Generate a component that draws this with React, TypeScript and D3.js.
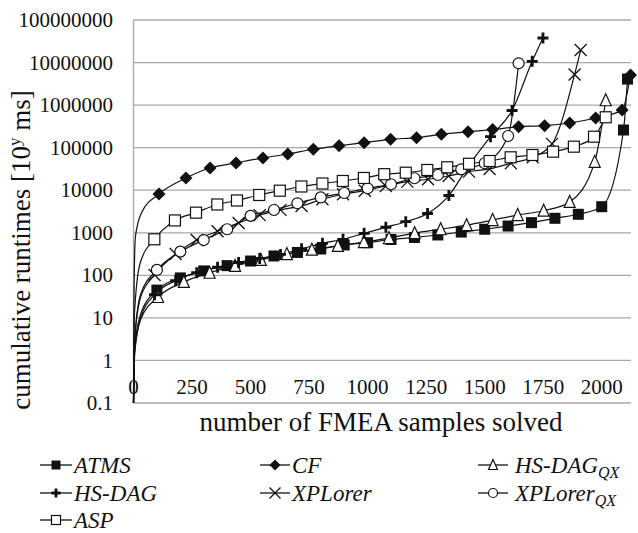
import React from 'react';
import * as d3 from 'd3';

// samples solved (x) and cumulative runtimes (y)
// the first LEAD points of each series are the rise from 0 and carry no marker
const ATMS_N = [0, 5, 30, 100, 200, 300, 400, 500, 600, 700, 800, 900, 1000, 1100, 1200, 1300, 1400, 1500, 1600, 1700, 1800, 1900, 2000, 2093, 2110];
const ATMS_V = [0.1, 2, 12, 45, 87, 127, 169, 217, 285, 345, 416, 517, 585, 696, 776, 888, 1040, 1210, 1440, 1730, 2190, 2720, 4100, 260000, 4100000];

const CF_N = [0, 2, 8, 35, 109, 224, 327, 438, 553, 659, 768, 878, 985, 1098, 1209, 1315, 1429, 1534, 1645, 1756, 1863, 1974, 2087, 2123];
const CF_V = [0.1, 30, 800, 3000, 8170, 19400, 33300, 43700, 57200, 71100, 91700, 111000, 131000, 157000, 172000, 206000, 237000, 267000, 311000, 328000, 380000, 498000, 767000, 5100000];

const HSQX_N = [0, 5, 30, 105, 215, 325, 434, 544, 655, 762, 873, 984, 1091, 1201, 1312, 1423, 1534, 1641, 1752, 1863, 1970, 2017];
const HSQX_V = [0.1, 1.5, 9, 31, 70, 115, 166, 230, 316, 400, 490, 605, 750, 980, 1210, 1510, 1990, 2610, 3300, 5300, 46500, 1300000];

const HS_N = [0, 5, 30, 90, 180, 270, 359, 449, 539, 628, 718, 807, 895, 985, 1078, 1163, 1256, 1347, 1434, 1525, 1617, 1703, 1749];
const HS_V = [0.1, 1.5, 10, 35, 75, 115, 155, 200, 250, 310, 420, 566, 703, 972, 1350, 1820, 2840, 7510, 39200, 181000, 748000, 10700000, 37800000];

const XP_N = [0, 5, 30, 90, 180, 270, 359, 449, 539, 628, 718, 807, 895, 988, 1078, 1170, 1258, 1346, 1433, 1521, 1612, 1705, 1788, 1884, 1910];
const XP_V = [0.1, 3, 30, 102, 316, 675, 1090, 1700, 2600, 3460, 4270, 6150, 8040, 9750, 12600, 15900, 18100, 21600, 27300, 31600, 43000, 59400, 123000, 5240000, 19700000];

const XPQX_N = [0, 5, 30, 100, 200, 300, 400, 500, 600, 700, 800, 900, 1000, 1100, 1200, 1300, 1400, 1500, 1600, 1645];
const XPQX_V = [0.1, 3, 35, 134, 360, 675, 1210, 2500, 3430, 4930, 6760, 8600, 11100, 13800, 19100, 22800, 31000, 43000, 188000, 9600000];

const ASP_N = [0, 3, 28, 89, 177, 267, 358, 442, 537, 625, 717, 807, 894, 984, 1071, 1163, 1255, 1340, 1433, 1521, 1611, 1704, 1792, 1881, 1967, 2017];
const ASP_V = [0.1, 10, 190, 703, 1950, 2970, 4620, 5740, 7730, 9750, 12240, 14400, 16480, 19400, 23800, 25800, 29900, 34600, 41800, 48600, 59400, 67300, 80500, 105500, 181000, 518000];

const X_TICKS = [0, 250, 500, 750, 1000, 1250, 1500, 1750, 2000];
const Y_TICKS = [0.1, 1, 10, 100, 1000, 10000, 100000, 1000000, 10000000, 100000000];

const series = [
  { name: 'ATMS', sub: '', n: ATMS_N, v: ATMS_V, lead: 3, sym: 'fsquare' },
  { name: 'CF', sub: '', n: CF_N, v: CF_V, lead: 4, sym: 'diamond' },
  { name: 'HS-DAG', sub: 'QX', n: HSQX_N, v: HSQX_V, lead: 3, sym: 'triangle' },
  { name: 'HS-DAG', sub: '', n: HS_N, v: HS_V, lead: 3, sym: 'plus' },
  { name: 'XPLorer', sub: '', n: XP_N, v: XP_V, lead: 3, sym: 'cross' },
  { name: 'XPLorer', sub: 'QX', n: XPQX_N, v: XPQX_V, lead: 3, sym: 'circle' },
  { name: 'ASP', sub: '', n: ASP_N, v: ASP_V, lead: 3, sym: 'osquare' },
];

// legend slots: [line x0, line x1, text x, baseline]
const legendPos = [
  [40, 72, 74, 473],
  [260, 290, 292, 473],
  [478, 508, 515, 473],
  [40, 72, 74, 501],
  [260, 290, 292, 501],
  [478, 508, 515, 501],
  [40, 72, 74, 528],
];

const FONT = '"Liberation Serif", Tinos, "Times New Roman", Times, serif';

function Marker({ sym, x, y, s }: { sym: string; x: number; y: number; s: number }) {
  const h = s / 2;
  switch (sym) {
    case 'fsquare':
      return <rect x={x - h} y={y - h} width={s} height={s} fill="#111" />;
    case 'osquare':
      return <rect x={x - h} y={y - h} width={s} height={s} fill="#fff" stroke="#111" strokeWidth={1.2} />;
    case 'diamond':
      return <path d={`M${x},${y - h - 1}L${x + h + 1},${y}L${x},${y + h + 1}L${x - h - 1},${y}Z`} fill="#111" />;
    case 'triangle':
      return <path d={`M${x},${y - h - 1}L${x + h},${y + h}L${x - h},${y + h}Z`} fill="#fff" stroke="#111" strokeWidth={1.2} />;
    case 'circle':
      return <circle cx={x} cy={y} r={h} fill="#fff" stroke="#111" strokeWidth={1.2} />;
    case 'cross':
      return <path d={`M${x - h - 1},${y - h - 1}L${x + h + 1},${y + h + 1}M${x - h - 1},${y + h + 1}L${x + h + 1},${y - h - 1}`} stroke="#111" strokeWidth={1.3} />;
    case 'plus':
      return <path d={`M${x - h},${y}L${x + h},${y}M${x},${y - h}L${x},${y + h}`} stroke="#111" strokeWidth={2.8} />;
    default:
      return null;
  }
}

export default function App() {
  const x = d3.scaleLinear().domain([0, 2125]).range([133.5, 631]);
  const y = d3.scaleLog().domain([0.1, 1e8]).range([403, 20]);

  const line = d3
    .line<[number, number]>()
    .x((d) => x(d[0]))
    .y((d) => y(d[1]))
    .curve(d3.curveMonotoneX);

  const txt = { fontFamily: FONT };

  return (
    <svg width={638} height={533} style={{ position: 'absolute', left: 0, top: 0, background: '#fff', fontFamily: FONT }}>
      {/* gridlines */}
      {Y_TICKS.map((t) => (
        <line key={t} x1={x(0)} x2={631} y1={y(t)} y2={y(t)} stroke="#a8a8a8" strokeWidth={1.3} />
      ))}
      <line x1={x(0)} x2={x(0)} y1={y(1e8)} y2={y(0.1)} stroke="#a8a8a8" strokeWidth={1.3} />

      {/* y tick labels */}
      {Y_TICKS.map((t) => (
        <text key={t} style={txt} x={113} y={y(t)} dy="0.34em" textAnchor="end" fontSize={21} fill="#111">
          {t < 1 ? '0.1' : String(t)}
        </text>
      ))}

      {/* x tick labels */}
      {X_TICKS.map((t) => (
        <text key={t} style={txt} x={x(t)} y={394} textAnchor="middle" fontSize={21} fill="#111">
          {t}
        </text>
      ))}

      {/* series lines */}
      {series.map((s, i) => (
        <path
          key={'l' + i}
          d={line(s.n.map((n, j) => [n, s.v[j]] as [number, number])) || ''}
          fill="none"
          stroke="#111"
          strokeWidth={1.2}
        />
      ))}

      {/* markers */}
      {series.map((s, i) => (
        <g key={'m' + i}>
          {s.n.slice(s.lead).map((n, j) => (
            <Marker key={j} sym={s.sym} x={x(n)} y={y(s.v[j + s.lead])} s={s.sym === 'cross' ? 10 : 11} />
          ))}
        </g>
      ))}

      {/* axis titles */}
      <text style={txt} transform="translate(30,250) rotate(-90)" textAnchor="middle" fontSize={27} fill="#111">
        cumulative runtimes [10<tspan dy={-10} fontSize={17}>y</tspan>
        <tspan dy={10}> ms]</tspan>
      </text>
      <text style={txt} x={381} y={431} textAnchor="middle" fontSize={27} fill="#111">
        number of FMEA samples solved
      </text>

      {/* legend */}
      {series.map((s, i) => {
        const [x0, x1, tx, by] = legendPos[i];
        const cy = by - 8;
        return (
          <g key={'lg' + i}>
            <line x1={x0} x2={x1} y1={cy} y2={cy} stroke="#111" strokeWidth={1.3} />
            <Marker sym={s.sym} x={(x0 + x1) / 2} y={cy} s={9} />
            <text style={txt} x={tx} y={by} fontSize={23} fontStyle="italic" fill="#111">
              {s.name}
              {s.sub && (
                <tspan dy={5} fontSize={16}>
                  {s.sub}
                </tspan>
              )}
            </text>
          </g>
        );
      })}
    </svg>
  );
}
